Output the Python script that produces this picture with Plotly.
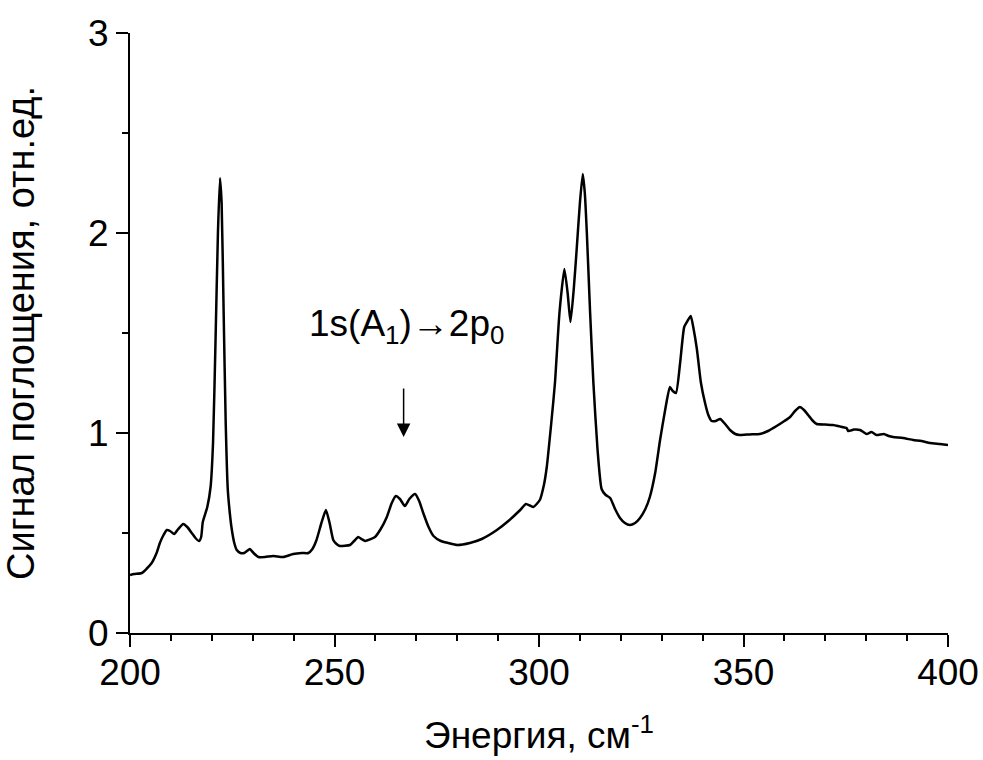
import plotly.graph_objects as go

energy = [200.0, 201.0, 202.9, 204.0, 205.3, 206.5, 207.3, 208.2, 209.0, 209.8, 210.8, 211.8, 213.0, 214.0, 215.1, 216.0, 216.9, 217.4, 217.8, 218.9, 219.7, 220.3, 220.9, 221.5, 222.0, 222.4, 222.9, 223.4, 223.9, 224.4, 224.8, 225.5, 226.1, 227.0, 227.9, 228.6, 229.3, 230.2, 231.4, 233.0, 235.0, 237.5, 239.9, 242.0, 243.6, 244.6, 245.6, 246.8, 247.9, 248.8, 249.7, 250.5, 251.3, 253.8, 254.8, 255.8, 256.6, 257.5, 259.9, 261.3, 262.8, 264.0, 265.0, 266.0, 267.2, 268.3, 269.7, 270.7, 271.7, 273.0, 274.2, 276.0, 277.8, 280.0, 283.1, 286.0, 289.7, 292.5, 295.4, 296.8, 298.6, 300.2, 301.2, 301.9, 303.0, 303.9, 305.0, 306.2, 307.0, 307.7, 308.5, 309.2, 310.0, 310.7, 311.2, 311.7, 312.5, 313.3, 314.3, 315.3, 316.3, 317.4, 318.6, 319.8, 321.0, 322.2, 323.5, 324.7, 326.0, 327.1, 328.4, 329.6, 330.8, 332.0, 332.7, 333.5, 334.5, 335.5, 336.3, 337.1, 337.8, 338.6, 339.6, 340.6, 341.4, 342.2, 343.2, 344.3, 345.5, 346.7, 348.0, 349.1, 351.5, 354.0, 356.0, 358.1, 360.0, 361.4, 362.6, 363.8, 364.8, 365.8, 367.0, 367.9, 370.0, 371.9, 373.5, 375.2, 375.6, 377.0, 378.5, 379.3, 380.1, 381.3, 382.5, 384.3, 385.5, 386.6, 389.0, 391.5, 393.5, 395.6, 398.0, 400.0]

signal = [0.29, 0.295, 0.30, 0.32, 0.35, 0.40, 0.45, 0.49, 0.515, 0.51, 0.495, 0.52, 0.545, 0.53, 0.50, 0.475, 0.46, 0.48, 0.555, 0.63, 0.73, 0.95, 1.45, 2.0, 2.275, 2.15, 1.6, 1.05, 0.72, 0.6, 0.53, 0.45, 0.415, 0.40, 0.40, 0.41, 0.42, 0.40, 0.38, 0.38, 0.385, 0.38, 0.395, 0.40, 0.40, 0.42, 0.465, 0.55, 0.615, 0.55, 0.465, 0.445, 0.435, 0.44, 0.46, 0.48, 0.47, 0.46, 0.48, 0.52, 0.58, 0.65, 0.685, 0.67, 0.635, 0.67, 0.695, 0.66, 0.60, 0.53, 0.485, 0.46, 0.45, 0.44, 0.45, 0.47, 0.515, 0.56, 0.615, 0.645, 0.63, 0.665, 0.74, 0.83, 1.05, 1.25, 1.6, 1.82, 1.70, 1.555, 1.72, 1.915, 2.15, 2.295, 2.20, 2.0, 1.6, 1.25, 0.92, 0.72, 0.69, 0.675, 0.62, 0.575, 0.55, 0.54, 0.55, 0.575, 0.62, 0.68, 0.80, 0.965, 1.11, 1.23, 1.21, 1.20, 1.35, 1.53, 1.56, 1.585, 1.52, 1.42, 1.25, 1.15, 1.09, 1.06, 1.06, 1.07, 1.045, 1.015, 0.995, 0.99, 0.993, 0.995, 1.01, 1.035, 1.06, 1.08, 1.11, 1.13, 1.115, 1.09, 1.06, 1.045, 1.042, 1.04, 1.033, 1.025, 1.01, 1.017, 1.015, 1.005, 0.995, 1.005, 0.99, 0.995, 0.985, 0.98, 0.975, 0.965, 0.96, 0.95, 0.945, 0.94]

x_ticks = [200, 250, 300, 350, 400]
y_ticks = [0, 1, 2, 3]
x_title = "Энергия, см<sup>-1</sup>"
y_title = "Сигнал поглощения, отн.ед."
label_text = "1s(A<sub>1</sub>)→2p<sub>0</sub>"
label_x = 267.7
label_y = 1.535
arrow_x = 266.9
arrow_tip_y = 0.98
arrow_tail_y = 1.23

FONT = "Liberation Sans, Arial, sans-serif"

fig = go.Figure()
fig.add_trace(go.Scatter(x=energy, y=signal, mode="lines",
                         line=dict(color="black", width=2.5, shape="spline", smoothing=0.5),
                         showlegend=False))

axis_common = dict(showline=True, linewidth=2, linecolor="black", showgrid=False,
                   zeroline=False, ticks="outside", ticklen=12, tickwidth=2,
                   tickcolor="black", mirror=False,
                   tickfont=dict(family=FONT, size=37, color="black"))

fig.update_xaxes(range=[200, 400], tickvals=x_ticks, ticktext=[str(v) for v in x_ticks],
                 ticklabelstandoff=-6,
                 minor=dict(dtick=10, tick0=200, ticklen=6, tickwidth=2, ticks="outside",
                            tickcolor="black", showgrid=False),
                 title=dict(text=x_title, font=dict(family=FONT, size=37, color="black"),
                            standoff=30),
                 **axis_common)
fig.update_yaxes(range=[0, 3], tickvals=y_ticks, ticktext=[str(v) for v in y_ticks],
                 minor=dict(dtick=0.5, tick0=0, ticklen=6, tickwidth=2, ticks="outside",
                            tickcolor="black", showgrid=False),
                 title=dict(text=y_title, font=dict(family=FONT, size=38, color="black"),
                            standoff=46),
                 **axis_common)

fig.add_annotation(x=arrow_x, y=arrow_tip_y, ax=arrow_x, ay=arrow_tail_y,
                   xref="x", yref="y", axref="x", ayref="y", text="",
                   showarrow=True, arrowhead=2, arrowsize=1.8, arrowwidth=1.5,
                   arrowcolor="black")
fig.add_annotation(x=label_x, y=label_y, xref="x", yref="y", text=label_text,
                   showarrow=False, xanchor="center", yanchor="middle",
                   font=dict(family=FONT, size=37, color="black"))

fig.update_layout(width=983, height=760,
                  margin=dict(l=130, r=35, t=33, b=127, autoexpand=False),
                  plot_bgcolor="white", paper_bgcolor="white",
                  font=dict(family=FONT, size=37, color="black"))

fig.write_html("out.html", config={"displayModeBar": False},
               post_script="document.body.style.margin='0';document.body.style.overflow='hidden';")
